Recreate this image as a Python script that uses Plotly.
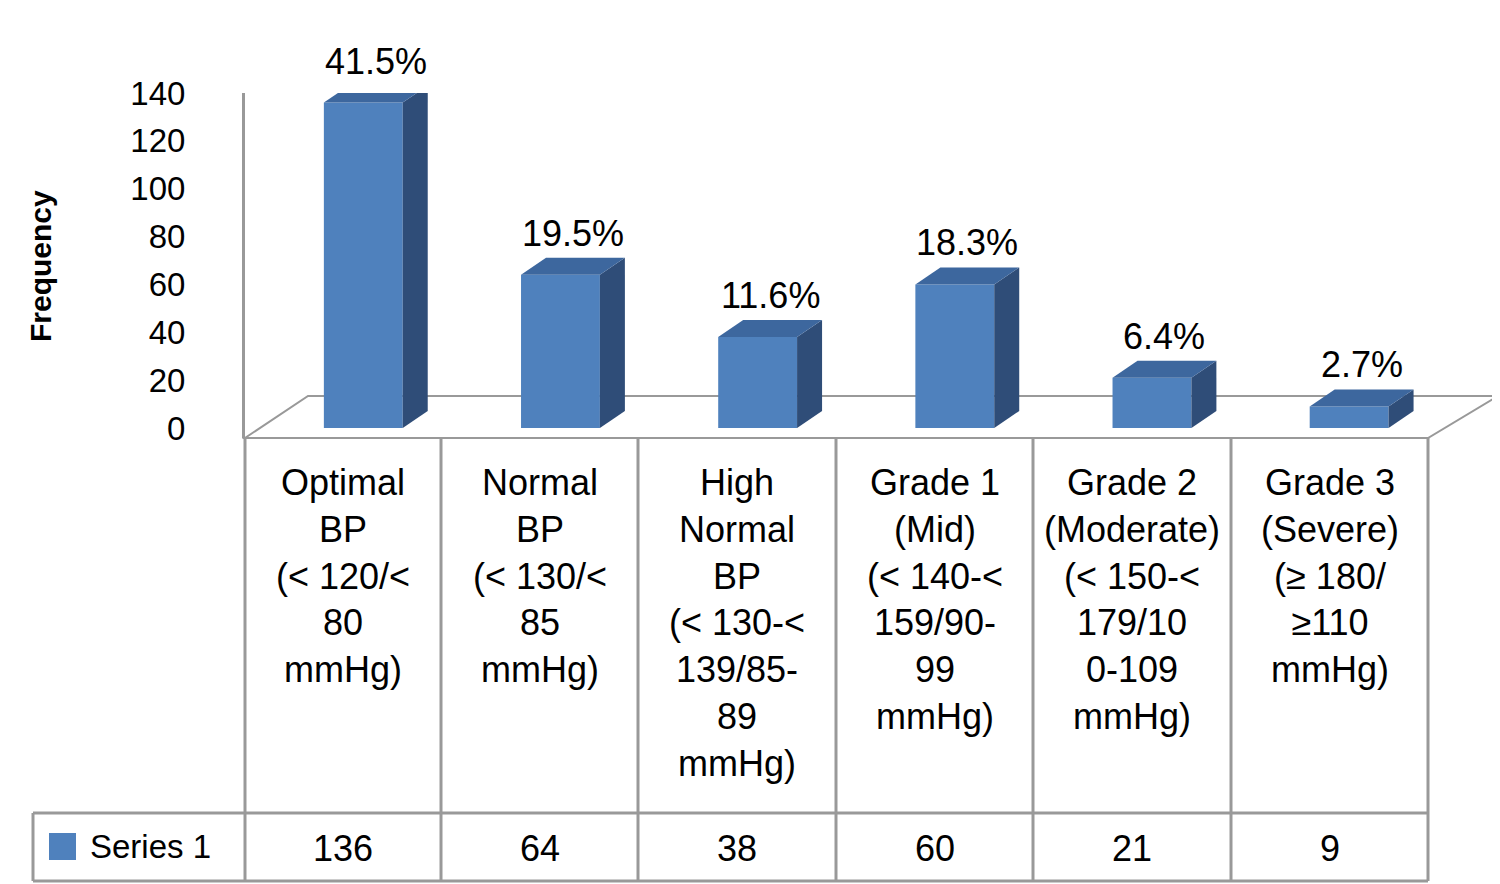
import plotly.graph_objects as go

categories = ["Optimal<br>BP<br>(&lt; 120/&lt;<br>80<br>mmHg)",
              "Normal<br>BP<br>(&lt; 130/&lt;<br>85<br>mmHg)",
              "High<br>Normal<br>BP<br>(&lt; 130-&lt;<br>139/85-<br>89<br>mmHg)",
              "Grade 1<br>(Mid)<br>(&lt; 140-&lt;<br>159/90-<br>99<br>mmHg)",
              "Grade 2<br>(Moderate)<br>(&lt; 150-&lt;<br>179/10<br>0-109<br>mmHg)",
              "Grade 3<br>(Severe)<br>(≥ 180/<br>≥110<br>mmHg)"]
values = [136, 64, 38, 60, 21, 9]
percents = ["41.5%", "19.5%", "11.6%", "18.3%", "6.4%", "2.7%"]
series_name = "Series 1"

W, H = 1500, 884
L, R, T, B = 237, 1420, 85, 430
YMIN, YMAX = -4.2, 140
upp = (YMAX - YMIN) / (B - T)
xpp = 6 / (R - L)

FRONT, SIDE, TOP = "#4F81BD", "#2F4D78", "#3D679E"
GRID = "#999999"
FONT = "Liberation Sans, Arial, sans-serif"

def px(xpix): return (xpix - L) / (R - L)
def py(ypix): return (B - ypix) / (B - T)

fig = go.Figure()
xs = [i + 0.1 for i in range(len(values))]
fig.add_trace(go.Bar(x=xs, y=values, width=0.4, marker=dict(color=FRONT, line=dict(width=0)),
                     showlegend=False, hoverinfo="skip"))

shapes = []
dx, dy = 25 * xpp, 17 * upp
shapes.append(dict(type="path", xref="paper", yref="paper",
                   path=f"M{px(237)},{py(430)} L{px(1420)},{py(430)} L{px(1490)},{py(388)} L{px(300)},{py(388)} Z",
                   line=dict(color=GRID, width=2), fillcolor="white", layer="below"))
for x, v, p in zip(xs, values, percents):
    xl, xr = x - 0.2, x + 0.2
    shapes.append(dict(type="path", path=f"M{xr},0 L{xr+dx},{dy} L{xr+dx},{v+dy} L{xr},{v} Z",
                       fillcolor=SIDE, line=dict(width=0)))
    shapes.append(dict(type="path", path=f"M{xl},{v} L{xr},{v} L{xr+dx},{v+dy} L{xl+dx},{v+dy} Z",
                       fillcolor=TOP, line=dict(width=0)))
    fig.add_annotation(xref="paper", yref="paper", x=(x + dx / 2 + 0.5) / 6,
                       y=(v + dy - YMIN) / (YMAX - YMIN), text=p, showarrow=False,
                       xanchor="center", yanchor="bottom", yshift=2,
                       font=dict(size=36, color="black", family=FONT))

cols = [237, 433, 630, 828, 1025, 1223, 1420]
for c in cols:
    shapes.append(dict(type="line", xref="paper", yref="paper", x0=px(c), x1=px(c), y0=py(430), y1=py(873),
                       line=dict(color=GRID, width=3)))
for yy in [805, 873]:
    shapes.append(dict(type="line", xref="paper", yref="paper", x0=px(25), x1=px(1420), y0=py(yy), y1=py(yy),
                       line=dict(color=GRID, width=3)))
shapes.append(dict(type="line", xref="paper", yref="paper", x0=px(25), x1=px(25), y0=py(805), y1=py(873),
                   line=dict(color=GRID, width=3)))
shapes.append(dict(type="rect", xref="paper", yref="paper", x0=px(41), x1=px(68), y0=py(825), y1=py(852),
                   fillcolor=FRONT, line=dict(width=0)))
fig.add_annotation(xref="paper", yref="paper", x=px(80), y=py(838), text=series_name, showarrow=False,
                   xanchor="left", yanchor="middle", font=dict(size=33, family=FONT, color="black"))
for i, (cat, v) in enumerate(zip(categories, values)):
    cx = (cols[i] + cols[i + 1]) / 2
    fig.add_annotation(xref="paper", yref="paper", x=px(cx), y=py(452), text=cat, showarrow=False,
                       xanchor="center", yanchor="top", align="center",
                       font=dict(size=36, family=FONT, color="black"))
    fig.add_annotation(xref="paper", yref="paper", x=px(cx), y=py(840), text=str(v), showarrow=False,
                       xanchor="center", yanchor="middle", font=dict(size=36, family=FONT, color="black"))
fig.add_annotation(xref="paper", yref="paper", x=px(32), y=py(258), text="<b>Frequency</b>", showarrow=False,
                   textangle=-90, xanchor="center", yanchor="middle",
                   font=dict(size=30, family=FONT, color="black"))

fig.update_layout(
    width=W, height=H, margin=dict(l=L, r=W - R, t=T, b=H - B, autoexpand=False),
    plot_bgcolor="white", paper_bgcolor="white", shapes=shapes,
    xaxis=dict(range=[-0.5, 5.5], visible=False),
    yaxis=dict(range=[YMIN, YMAX], tickvals=[0, 20, 40, 60, 80, 100, 120, 140], showgrid=False,
               zeroline=False, showline=True, linecolor=GRID, linewidth=3, ticks="", automargin=False,
               tickfont=dict(size=33, family=FONT, color="black"), ticklabelstandoff=50),
)
fig.write_html("out.html")
